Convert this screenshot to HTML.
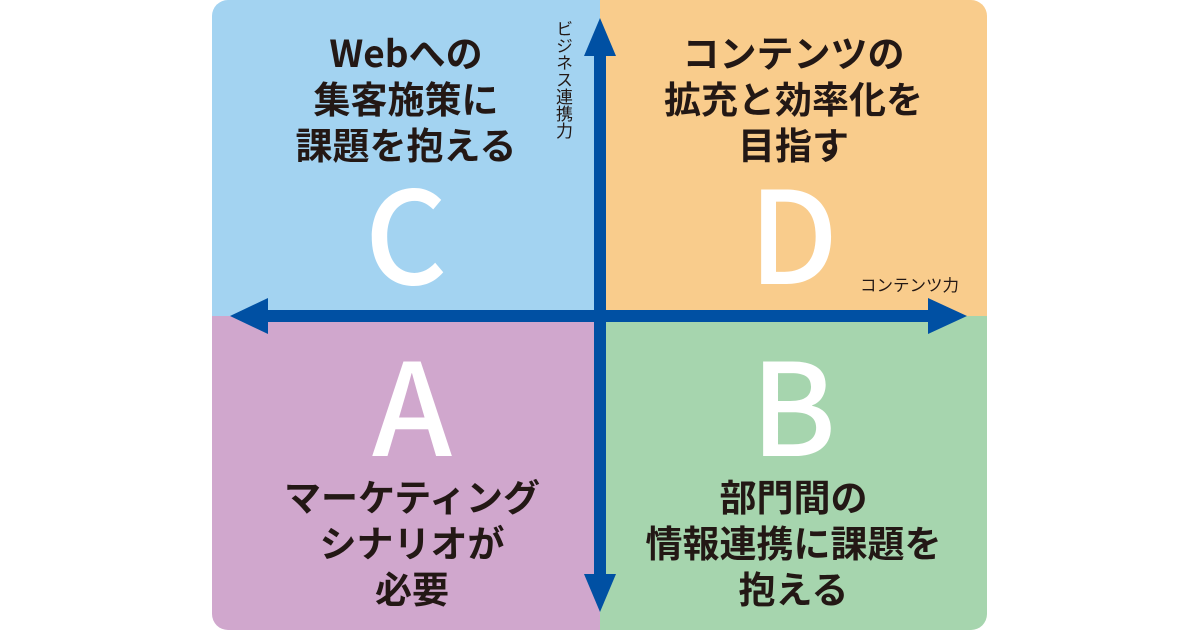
<!DOCTYPE html>
<html><head><meta charset="utf-8"><style>
body{margin:0;width:1200px;height:630px;background:#fff;position:relative;overflow:hidden;font-family:"Liberation Sans","Noto Sans CJK JP",sans-serif}
.q{position:absolute}
.t{position:absolute;text-align:center;font-weight:bold;color:#231815;font-size:37px;line-height:46px;font-family:"Noto Sans CJK JP",sans-serif}
.L{position:absolute;text-align:center;color:#fff;font-size:128px;line-height:132px;font-family:"Noto Sans CJK JP",sans-serif;font-weight:500}
</style></head><body>
<div class="q" style="left:212px;top:0;width:388px;height:316px;background:#a3d3f1;border-top-left-radius:16px"></div>
<div class="q" style="left:600px;top:0;width:387px;height:316px;background:#f9cc8c;border-top-right-radius:16px"></div>
<div class="q" style="left:212px;top:316px;width:388px;height:314px;background:#d0a7cd;border-bottom-left-radius:16px"></div>
<div class="q" style="left:600px;top:316px;width:387px;height:314px;background:#a6d5ae;border-bottom-right-radius:16px"></div>

<div class="t" style="left:212px;width:388px;top:28px">Webへの<br>集客施策に<br>課題を抱える</div>
<div class="t" style="left:600px;width:387px;top:28px">コンテンツの<br>拡充と効率化を<br>目指す</div>
<div class="t" style="left:212px;width:400px;top:472px">マーケティング<br>シナリオが<br>必要</div>
<div class="t" style="left:600px;width:387px;top:472px">部門間の<br>情報連携に課題を<br>抱える</div>

<div class="L" style="left:212px;width:388px;top:163px">C</div>
<div class="L" style="left:600px;width:387px;top:163px">D</div>
<div class="L" style="left:212px;width:400px;top:335px">A</div>
<div class="L" style="left:600px;width:387px;top:335px">B</div>

<svg style="position:absolute;left:0;top:0" width="1200" height="630">
<rect x="594" y="50" width="12" height="530" fill="#0050a3"/>
<rect x="262" y="310" width="672" height="12" fill="#0050a3"/>
<polygon points="600,18 584,56 616,56" fill="#0050a3"/>
<polygon points="600,612 584,574 616,574" fill="#0050a3"/>
<polygon points="230,316 268,298 268,334" fill="#0050a3"/>
<polygon points="967,316 928,298 928,334" fill="#0050a3"/>
</svg>
<div style="position:absolute;left:555px;top:20px;font-size:17px;line-height:18px;color:#231815;writing-mode:vertical-rl;font-family:'Noto Sans CJK JP',sans-serif">ビジネス連携力</div>
<div style="position:absolute;left:860px;top:272px;font-size:16.5px;color:#231815;font-family:'Noto Sans CJK JP',sans-serif">コンテンツ力</div>
</body></html>
